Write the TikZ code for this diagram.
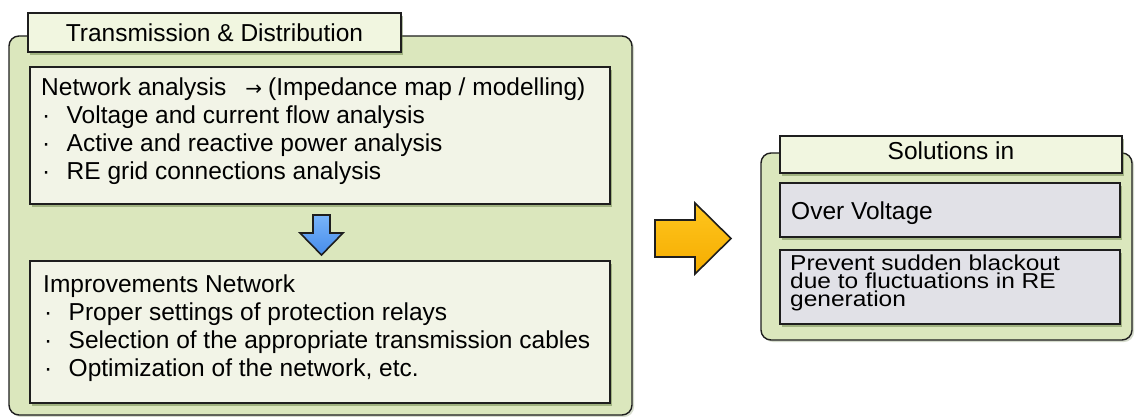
\documentclass[tikz,border=0pt]{standalone}
\usepackage{fontspec}
\setmainfont{Liberation Sans}
\newfontfamily\symfont{DejaVu Sans}
\usetikzlibrary{shadows}

\definecolor{panelgreen}{RGB}{219,231,189}
\definecolor{tabfill}{RGB}{241,246,224}
\definecolor{boxcream}{RGB}{242,244,231}
\definecolor{boxgray}{RGB}{225,225,231}
\definecolor{shadowgreen}{RGB}{90,115,55}
\definecolor{edge}{RGB}{30,30,30}
\definecolor{bluetop}{RGB}{120,180,250}
\definecolor{bluebottom}{RGB}{70,140,235}
\definecolor{orangetop}{RGB}{255,198,30}
\definecolor{orangebottom}{RGB}{245,172,0}

% bullet cell used in front of list entries
\newcommand{\itemdot}{\makebox[25.5pt][l]{\hspace{1pt}·}}
% text block whose baseline is the baseline of its first line
\newcommand{\textblock}[3]{\parbox[t]{#1}{\fontsize{24.5}{#2}\selectfont\lineskiplimit=-30pt\raggedright #3}}

\begin{document}
\begin{tikzpicture}[x=1pt,y=-1pt,
  panel/.style={draw=edge, line width=1.4pt, rounded corners=10pt, fill=panelgreen,
    anchor=north west, inner sep=0pt, outer sep=0pt,
    drop shadow={shadow xshift=2pt, shadow yshift=-2pt, opacity=0.25, fill=shadowgreen}},
  tabbox/.style={draw=edge, line width=2pt, fill=tabfill,
    anchor=north west, inner sep=0pt, outer sep=0pt,
    drop shadow={shadow xshift=1.5pt, shadow yshift=-3pt, opacity=0.45, fill=shadowgreen}},
  creambox/.style={tabbox, fill=boxcream},
  graybox/.style={tabbox, fill=boxgray},
  txt/.style={inner sep=0pt, anchor=base west},
  title/.style={inner sep=0pt, anchor=base, font=\fontsize{24.5}{28}\selectfont},
  blockarrow/.style={draw=edge, line width=1.6pt, line join=miter},
]
\useasboundingbox (0,0) rectangle (1135,417);

% ---- left panel: transmission & distribution
\node[panel, minimum width=623pt, minimum height=379pt] (tdpanel) at (9,36) {};
\node[tabbox, minimum width=373pt, minimum height=39pt] (tdtab) at (28,13) {};
\node[creambox, minimum width=580pt, minimum height=137pt] (analysis) at (30,67) {};
\node[creambox, minimum width=580pt, minimum height=142pt] (improve) at (30,261) {};

\node[title] (tdtitle) at (214.5,42) {Transmission \& Distribution};

\node[txt] (analysistext) at (41,96) {\textblock{565pt}{28}{%
  Network analysis\hspace{19pt}{\symfont\fontsize{20}{20}\selectfont →}\hspace{6pt}(Impedance map / modelling)\\
  \itemdot Voltage and current flow analysis\\
  \itemdot Active and reactive power analysis\\
  \itemdot RE grid connections analysis}};

\node[txt] (improvetext) at (43,292) {\textblock{565pt}{28}{%
  Improvements Network\\
  \itemdot Proper settings of protection relays\\
  \itemdot Selection of the appropriate transmission cables\\
  \itemdot Optimization of the network, etc.}};

% down arrow from the analysis box to the improvements box
\draw[blockarrow, top color=bluetop, bottom color=bluebottom]
  (313,215) -- (330,215) -- (330,233) -- (343,233) -- (321.5,255)
  -- (300,233) -- (313,233) -- cycle;

% ---- arrow towards the solutions
\draw[blockarrow, top color=orangetop, bottom color=orangebottom]
  (655,220) -- (695,220) -- (695,203) -- (731,238.5) -- (695,274)
  -- (695,257) -- (655,257) -- cycle;

% ---- right panel: solutions
\node[panel, minimum width=371pt, minimum height=187pt] (solpanel) at (761,153) {};
\node[tabbox, minimum width=342pt, minimum height=37pt] (soltab) at (780,136) {};
\node[graybox, minimum width=340pt, minimum height=54pt] (overvolt) at (780,183) {};
\node[graybox, minimum width=340pt, minimum height=74pt] (blackout) at (780,250) {};

\node[title] (soltitle) at (951,160) {Solutions in};
\node[txt] (overvolttext) at (791,219) {\textblock{320pt}{28}{Over Voltage}};
\node[txt] (blackouttext) at (790,270) {\scalebox{1}[0.88]{\parbox[t]{335pt}{\fontsize{24.5}{20.5}\selectfont
  \lineskiplimit=-30pt\raggedright
  Prevent sudden blackout\\ due to fluctuations in RE\\ generation}}};
\end{tikzpicture}
\end{document}
